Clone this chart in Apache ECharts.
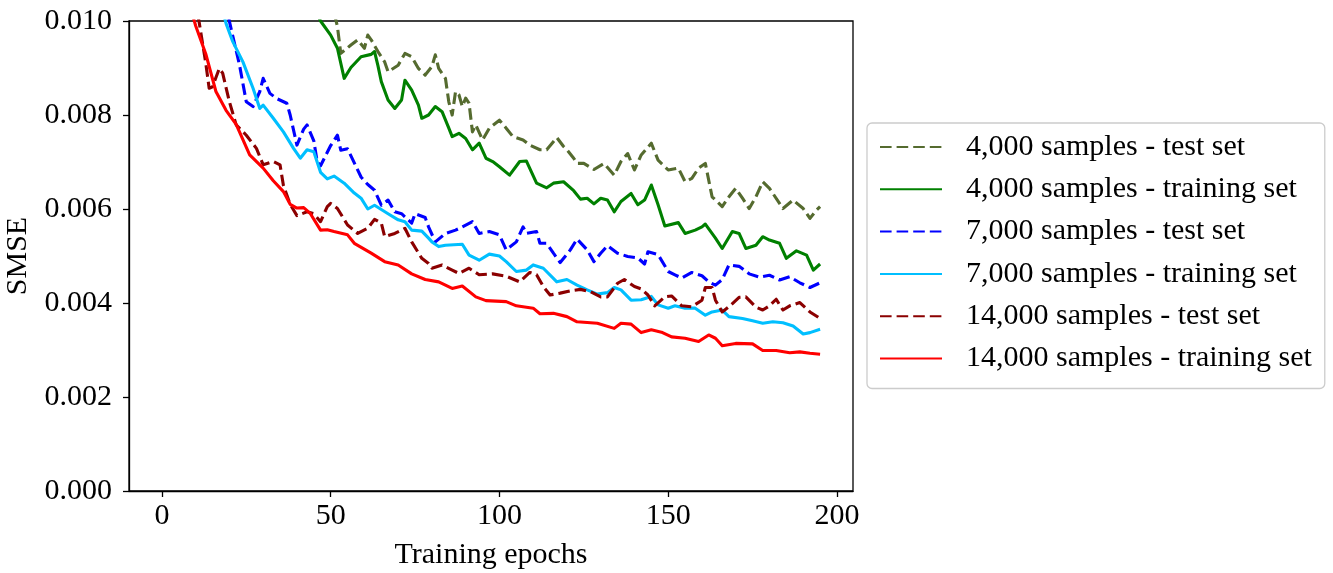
<!DOCTYPE html>
<html>
<head>
<meta charset="utf-8">
<script src="https://cdn.jsdelivr.net/npm/echarts@6/dist/echarts.min.js"></script>
<style>
html,body{margin:0;padding:0;background:#fff;}
#chart{width:1333px;height:573px;}
</style>
</head>
<body>
<div id="chart"></div>
<script>
// Series names (legend order)
const seriesNames = [
  '4,000 samples - test set',
  '4,000 samples - training set',
  '7,000 samples - test set',
  '7,000 samples - training set',
  '14,000 samples - test set',
  '14,000 samples - training set'
];
const xTicks = [0, 50, 100, 150, 200];
const yTicks = [0, 0.002, 0.004, 0.006, 0.008, 0.010];

// [epoch, SMSE]
const test4k = [[50,0.0105],[52,0.00988],[53,0.00931],[56,0.00949],[58,0.0096],[60,0.00942],[61,0.0097],[62,0.0096],[64,0.00935],[66,0.00913],[67,0.00892],[70,0.00906],[72,0.00931],[74,0.00924],[76,0.00899],[78,0.00885],[80,0.00903],[81,0.00928],[82,0.00899],[84,0.00878],[85,0.00828],[86,0.008],[87,0.0085],[88,0.00843],[89,0.00818],[90,0.00836],[91,0.00825],[92,0.00764],[93,0.00779],[95,0.00747],[97,0.00772],[100,0.00789],[102,0.00772],[104,0.00754],[107,0.00747],[109,0.00736],[112,0.00726],[114,0.00726],[117,0.00752],[119,0.00733],[120,0.00726],[122,0.00708],[123,0.00697],[125,0.00697],[128,0.00684],[131,0.00697],[134,0.00672],[136,0.00701],[138,0.00718],[140,0.00683],[142,0.00715],[145,0.0074],[147,0.00704],[150,0.00683],[153,0.00687],[155,0.00658],[157,0.00665],[159,0.00687],[161,0.00697],[163,0.00626],[166,0.00605],[168,0.00626],[170,0.00644],[172,0.00623],[174,0.00601],[176,0.00626],[178,0.00658],[180,0.00644],[184,0.00601],[187,0.00619],[190,0.00601],[192,0.0058],[194,0.00598],[195,0.00605]];
const train4k = [[45,0.0103],[47,0.01],[50,0.0097],[52,0.00942],[54,0.00878],[56,0.00901],[59,0.00924],[62,0.00929],[63,0.00935],[64,0.00905],[65,0.00871],[67,0.00832],[69,0.00814],[71,0.00832],[72,0.00874],[74,0.00853],[76,0.00821],[77,0.00793],[79,0.008],[81,0.00818],[83,0.00807],[85,0.00772],[86,0.00754],[88,0.00761],[90,0.0075],[92,0.00726],[94,0.0074],[96,0.00708],[98,0.00701],[100,0.0069],[103,0.00672],[106,0.00701],[108,0.00702],[111,0.00655],[114,0.00645],[116,0.00655],[119,0.00658],[122,0.00639],[124,0.00621],[126,0.00623],[128,0.00611],[130,0.00623],[132,0.00619],[134,0.00594],[136,0.00616],[139,0.00633],[141,0.00609],[143,0.00619],[145,0.00651],[147,0.00609],[149,0.00564],[153,0.00571],[155,0.00548],[158,0.00555],[160,0.00562],[161,0.00568],[164,0.00538],[166,0.00516],[169,0.00552],[171,0.00548],[173,0.00516],[176,0.00523],[178,0.00541],[180,0.00534],[183,0.00527],[185,0.00495],[188,0.00511],[191,0.00502],[193,0.0047],[195,0.00483]];
const test7k = [[19,0.0104],[20,0.00999],[23,0.00906],[25,0.00828],[27,0.00818],[29,0.0085],[30,0.00878],[32,0.00846],[34,0.00835],[37,0.00825],[38,0.008],[40,0.00736],[42,0.0077],[43,0.00779],[45,0.00745],[46,0.00701],[47,0.00692],[50,0.00735],[52,0.00757],[53,0.00725],[55,0.00728],[57,0.00698],[59,0.00668],[61,0.00652],[63,0.0064],[65,0.00608],[67,0.00619],[69,0.00594],[71,0.0059],[74,0.0057],[75,0.0059],[78,0.00582],[79,0.00562],[81,0.0053],[84,0.00548],[87,0.00555],[89,0.00562],[92,0.00573],[94,0.00548],[97,0.00552],[100,0.00545],[102,0.00513],[105,0.0053],[107,0.00562],[108,0.00548],[111,0.00552],[112,0.00527],[114,0.00527],[116,0.00506],[118,0.00486],[121,0.00513],[123,0.00536],[126,0.00513],[128,0.00488],[130,0.00506],[132,0.00522],[135,0.00506],[138,0.00499],[141,0.00496],[143,0.00483],[144,0.00509],[147,0.00503],[150,0.00467],[152,0.0046],[154,0.00453],[157,0.00465],[160,0.00458],[162,0.00445],[164,0.00438],[166,0.0045],[168,0.00481],[171,0.00478],[174,0.00462],[177,0.00455],[180,0.00459],[183,0.00449],[186,0.00456],[189,0.00443],[192,0.00433],[195,0.00443]];
const train7k = [[17,0.0105],[19,0.00995],[21,0.00956],[24,0.00913],[27,0.00857],[29,0.00814],[30,0.00821],[33,0.00793],[36,0.00764],[39,0.00729],[41,0.00708],[43,0.00726],[45,0.00722],[47,0.00678],[49,0.00664],[51,0.0067],[54,0.00655],[57,0.00634],[59,0.00623],[61,0.006],[63,0.00608],[67,0.0059],[70,0.00577],[72,0.00573],[74,0.00555],[77,0.00553],[79,0.00538],[80,0.0053],[82,0.0052],[84,0.00523],[89,0.00525],[91,0.00502],[94,0.00491],[97,0.00504],[100,0.005],[102,0.00488],[105,0.00467],[108,0.0047],[110,0.00481],[113,0.00474],[117,0.00445],[120,0.0045],[123,0.00438],[126,0.00428],[129,0.00419],[132,0.00422],[134,0.00433],[136,0.00428],[139,0.00406],[142,0.00407],[145,0.00414],[147,0.00396],[150,0.00389],[152,0.00394],[155,0.00389],[158,0.00389],[161,0.00374],[163,0.00381],[166,0.00385],[168,0.00371],[172,0.00367],[175,0.00362],[178,0.00357],[181,0.0036],[184,0.00358],[187,0.00351],[190,0.00334],[192,0.00337],[195,0.00344]];
const test14k = [[9,0.0108],[11,0.00999],[13,0.0091],[14,0.00857],[15,0.0086],[17,0.00899],[18,0.00889],[20,0.00828],[22,0.00779],[25,0.00757],[28,0.00729],[30,0.00694],[33,0.00701],[35,0.00694],[36,0.0065],[38,0.0061],[40,0.00586],[43,0.00594],[45,0.0059],[47,0.00573],[49,0.00605],[50,0.00612],[52,0.00601],[55,0.00566],[58,0.00548],[61,0.00559],[63,0.00578],[65,0.0057],[66,0.00541],[69,0.00548],[72,0.00559],[74,0.0053],[77,0.00495],[79,0.00484],[80,0.00474],[83,0.00481],[86,0.0047],[88,0.00463],[91,0.00474],[94,0.0046],[98,0.00462],[102,0.00457],[106,0.00445],[109,0.00465],[111,0.0046],[113,0.00435],[115,0.00417],[118,0.00421],[121,0.00426],[124,0.00429],[127,0.00424],[130,0.00413],[132,0.00413],[135,0.00442],[137,0.0045],[140,0.00435],[142,0.0043],[144,0.00417],[146,0.00394],[149,0.00413],[151,0.00415],[154,0.00394],[157,0.00392],[160,0.00406],[161,0.00433],[163,0.00433],[164,0.00406],[166,0.00381],[168,0.00392],[171,0.00412],[173,0.00413],[176,0.00391],[178,0.00385],[180,0.00394],[182,0.00408],[184,0.00385],[186,0.00394],[189,0.00401],[192,0.00381],[195,0.00367]];
const train14k = [[8,0.0104],[10,0.0099],[13,0.0093],[16,0.0085],[19,0.0081],[22,0.0078],[26,0.00715],[30,0.00687],[33,0.0066],[36,0.00637],[38,0.0061],[40,0.00602],[42,0.00603],[44,0.0059],[47,0.00555],[49,0.00556],[51,0.00552],[55,0.00545],[57,0.00527],[62,0.00506],[66,0.00488],[70,0.00481],[74,0.00462],[78,0.0045],[82,0.00445],[86,0.00431],[89,0.00436],[93,0.00413],[96,0.00405],[102,0.00403],[105,0.00394],[110,0.00389],[112,0.00377],[116,0.00378],[120,0.00371],[123,0.0036],[129,0.00357],[134,0.00346],[136,0.00357],[139,0.00355],[142,0.00337],[145,0.00343],[148,0.00338],[151,0.00328],[155,0.00325],[159,0.00318],[162,0.00332],[164,0.00325],[166,0.00309],[170,0.00314],[175,0.00313],[178,0.00299],[182,0.00299],[186,0.00294],[189,0.00296],[192,0.00293],[195,0.00291]];

const allData = [test4k, train4k, test7k, train7k, test14k, train14k];
const colors = ['#556B2F', '#008000', '#0000FF', '#00BFFF', '#8B0000', '#FF0000'];
const dashed = [true, false, true, false, true, false];

const FONT = '"Liberation Serif", "DejaVu Serif", serif';
const FS = 30;

const chart = echarts.init(document.getElementById('chart'), null, {renderer: 'canvas'});

const series = seriesNames.map((name, i) => ({
  name: name,
  type: 'line',
  data: allData[i],
  showSymbol: false,
  symbol: 'none',
  clip: true,
  lineStyle: {
    color: colors[i],
    width: 3.1,
    type: dashed[i] ? [11.6, 5] : 'solid',
    cap: 'butt',
    join: 'round'
  },
  itemStyle: { color: colors[i] },
  emphasis: { disabled: true },
  z: 2 + i
}));

chart.setOption({
  animation: false,
  backgroundColor: '#fff',
  textStyle: { fontFamily: FONT },
  grid: {
    left: 129, top: 21, right: 480, bottom: 82,
    containLabel: false,
    outerBoundsMode: 'none',
    show: true, borderColor: '#000', borderWidth: 1.3,
    backgroundColor: 'transparent'
  },
  xAxis: {
    type: 'value',
    min: -9.75, max: 204.75,
    name: 'Training epochs',
    nameLocation: 'middle',
    nameGap: 49,
    nameTextStyle: { fontFamily: FONT, fontSize: FS, color: '#000' },
    axisLine: { show: true, onZero: false, lineStyle: { color: '#000', width: 1.3 } },
    axisTick: { show: true, length: 6, lineStyle: { color: '#000', width: 1.3 }, customValues: xTicks },
    axisLabel: { fontFamily: FONT, fontSize: FS, color: '#000', margin: 10, customValues: xTicks },
    splitLine: { show: false }
  },
  yAxis: {
    type: 'value',
    min: 0, max: 0.010, interval: 0.002,
    name: 'SMSE',
    nameLocation: 'middle',
    nameGap: 80,
    nameRotate: 90,
    nameTextStyle: { fontFamily: FONT, fontSize: FS, color: '#000' },
    axisLine: { show: true, onZero: false, lineStyle: { color: '#000', width: 1.3 } },
    axisTick: { show: true, length: 6, lineStyle: { color: '#000', width: 1.3 } },
    axisLabel: { fontFamily: FONT, fontSize: FS, color: '#000', margin: 17,
                 formatter: v => v.toFixed(3) },
    splitLine: { show: false }
  },
  legend: {
    data: seriesNames,
    orient: 'vertical',
    left: 867, top: 123,
    padding: [9, 13, 15, 12],
    itemWidth: 62,
    itemHeight: 30,
    itemGap: 12.3,
    backgroundColor: '#fff',
    borderColor: '#cccccc',
    borderWidth: 1.3,
    borderRadius: 5,
    selectedMode: false,
    itemStyle: { color: 'transparent', borderWidth: 0, opacity: 0 },
    textStyle: { fontFamily: FONT, fontSize: FS, color: '#000', lineHeight: 30, padding: [0, 0, 0, 19] }
  },
  series: series
});
</script>
</body>
</html>
